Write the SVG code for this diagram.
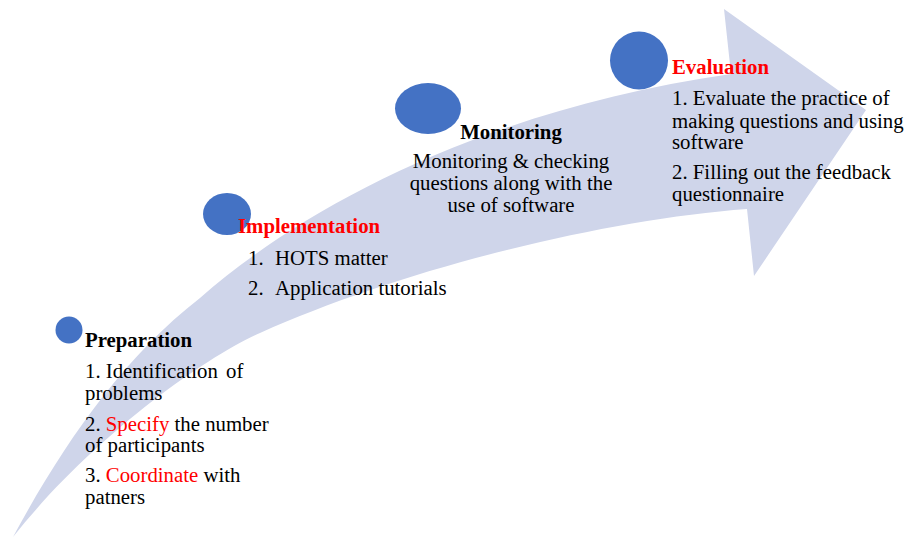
<svg xmlns="http://www.w3.org/2000/svg" width="910" height="537" viewBox="0 0 910 537">
  <style>
    .band { fill: #cfd5ea; stroke: none; }
    .dot { fill: #4472c4; stroke: none; }
    .txt text { font-family: "Liberation Serif", "Times New Roman", "DejaVu Serif", serif; font-size: 20.8px; fill: #000000; }
    .txt .title { font-weight: bold; }
    .txt .red { fill: #ff0000; }
    .txt .mid { text-anchor: middle; }
  </style>

  <!-- sweeping curved arrow -->
  <g id="connectors">
    <path class="band" d="M13,537 C60,450 120,360 200,298 C300,210 480,110 731,74 L724,9 L866,110 L754,276 L747,209 C600,220 400,270 260,333 C200,360 90,440 13,537 Z"/>
  </g>

  <!-- stage 1 -->
  <g id="preparation" class="txt" font-family="Liberation Serif, serif">
    <circle class="dot" cx="69" cy="330" r="13.5"/>
    <text class="title" x="85" y="347">Preparation</text>
    <text x="85" y="378">1. Identification</text>
    <text x="226" y="378">of</text>
    <text x="85" y="400">problems</text>
    <text x="85" y="431">2. <tspan class="red">Specify</tspan> the number</text>
    <text x="85" y="452">of participants</text>
    <text x="85" y="482">3. <tspan class="red">Coordinate</tspan> with</text>
    <text x="85" y="504">patners</text>
  </g>

  <!-- stage 2 -->
  <g id="implementation" class="txt" font-family="Liberation Serif, serif">
    <ellipse class="dot" cx="227" cy="214" rx="24" ry="21"/>
    <text class="title red" x="238" y="233">Implementation</text>
    <text x="248" y="265">1.</text>
    <text x="275" y="265">HOTS matter</text>
    <text x="248" y="295">2.</text>
    <text x="275" y="295">Application tutorials</text>
  </g>

  <!-- stage 3 -->
  <g id="monitoring" class="txt" font-family="Liberation Serif, serif">
    <ellipse class="dot" cx="428" cy="108.5" rx="33" ry="25.5"/>
    <text class="title mid" x="511" y="139">Monitoring</text>
    <text class="mid" x="511" y="168">Monitoring &amp; checking</text>
    <text class="mid" x="511" y="190">questions along with the</text>
    <text class="mid" x="511" y="212">use of software</text>
  </g>

  <!-- stage 4 -->
  <g id="evaluation" class="txt" font-family="Liberation Serif, serif">
    <circle class="dot" cx="639" cy="60.5" r="29"/>
    <text class="title red" x="672" y="74">Evaluation</text>
    <text x="672" y="105">1. Evaluate the practice of</text>
    <text x="672" y="128">making questions and using</text>
    <text x="672" y="149">software</text>
    <text x="672" y="179">2. Filling out the feedback</text>
    <text x="672" y="201">questionnaire</text>
  </g>
</svg>
